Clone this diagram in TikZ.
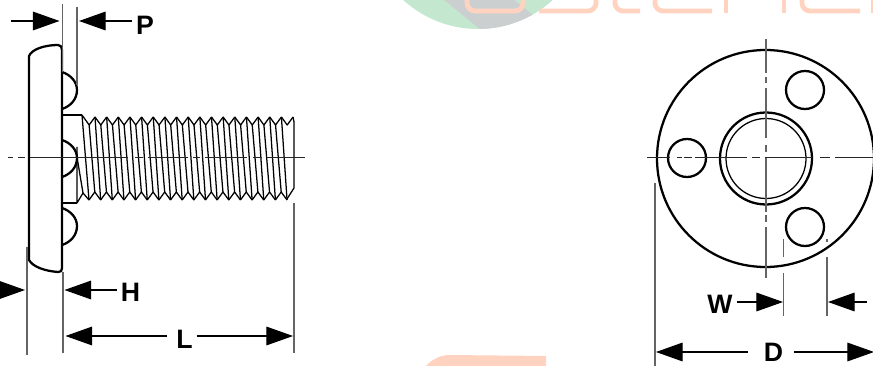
\documentclass[tikz,border=0pt]{standalone}
\usepackage{fontspec}
\setmainfont{Liberation Sans}
\usepackage{tikz}
\usetikzlibrary{arrows.meta}
\definecolor{mygreen}{RGB}{195,232,207}
\definecolor{mygray}{RGB}{204,207,208}
\definecolor{mypeach}{RGB}{255,211,192}
\definecolor{myline}{RGB}{100,100,100}
\tikzset{
  outline/.style={line width=1.7pt, line join=round},
  thread/.style={line width=0.95pt, line join=round},
  extline/.style={line width=0.85pt, myline},
  centerline/.style={line width=0.75pt, black!85},
  axisline/.style={line width=1.1pt, myline},
  dimline/.style={line width=0.9pt, -{Triangle[length=20pt,width=14pt]}},
  dimlabel/.style={font=\fontsize{20}{20}\selectfont\bfseries, inner ysep=0pt, inner xsep=3pt},
  letterstroke/.style={line width=3.6pt, mypeach, rounded corners=6pt}
}

\begin{document}
\begin{tikzpicture}[x=0.75pt, y=-0.75pt]
\clip (0,0) rectangle (873,366);

% Background marks
\begin{scope}
\clip (478,-82) circle (111);
\fill[mygreen] (478,-82) circle (111);
\fill[mygray] (443,-1) -- (481,30) -- (540,30) -- (532,14) -- (513,-1) -- cycle;
\end{scope}
\draw[letterstroke] (467,-5) -- (467,11) -- (523,11) -- (523,-5);
\draw[letterstroke] (539,11) -- (596,11) -- (596,-5);
\draw[letterstroke] (615,-5) -- (615,11) -- (640,11);
\draw[letterstroke] (655,-5) -- (655,11) -- (712,11);
\draw[letterstroke] (802,-5) -- (802,11) -- (860,11);
\foreach \x in {726,784,873}
  \fill[mypeach] (\x-2,-1) rectangle (\x+2,13);
\fill[mypeach] (425,367) .. controls (431,360) and (440,355) .. (449,355) -- (546,356) -- (546,367) -- cycle;

% Side view: head and bumps
\draw[outline] (29,56) .. controls (32,49) and (45,45) .. (58,45)
  .. controls (61,45) and (62,47) .. (62,50) -- (62,268)
  .. controls (62,271) and (61,272) .. (58,272)
  .. controls (45,271) and (33,267) .. (29,260) -- cycle;
\foreach \y in {72,140,208}
  \draw[outline] (62,\y) .. controls (71,\y+3) and (77,\y+10) .. (77,\y+18)
    .. controls (77,\y+27) and (71,\y+34) .. (62,\y+37);

% Side view: shank and thread
\draw[outline] (62,115) -- (82,115);
\draw[outline] (62,203) -- (77,203);
\draw[thread] (77,147) -- (77,203) -- (83,193) -- (89,200);
\draw[thread] (82,115) -- (89.15,125);
\draw[thread] (77,157) -- (83,193);
\draw[thread] (82,115) -- (89,200);
\foreach \n in {0,...,16} {
  \draw[thread] ({95+11.65*\n},117) -- ({100.8+11.65*\n},125) -- ({106.65+11.65*\n},117);
  \draw[thread] ({89+11.65*\n},200) -- ({94.8+11.65*\n},192) -- ({100.65+11.65*\n},200);
  \draw[thread] ({89.15+11.65*\n},125) -- ({94.8+11.65*\n},192);
  \draw[thread] ({95+11.65*\n},117) -- ({100.65+11.65*\n},200);
}
\draw[thread] (89.15,125) -- (95,117);
\draw[thread] (293,117) -- (294,122) -- (294,188) -- (287,199);

% Side view: centre line
\foreach \a/\b in {8/13,18/25,30/128,135/143,148/188,193/200,205/247,253/262,267/305}
  \draw[centerline] (\a,158) -- (\b,158);

% Front view: circles
\draw[outline] (765.5,158.5) circle (108.5);
\draw[outline] (687,158) circle (19);
\draw[outline] (805,90) circle (19);
\draw[outline] (805,227) circle (19);
\draw[outline] (766,158.5) circle (46);
\draw[thread] (766,158.5) circle (40);

% Front view: centre lines
\foreach \a/\b in {647/670,677/682,684/692,695/747,752/760,765/812,820/830,835/873}
  \draw[centerline] (\a,158) -- (\b,158);
\foreach \a/\b in {39/73,77/83,88/138,145/152,158/212,215/222,227/278}
  \draw[axisline] (766,\a) -- (766,\b);

% Extension lines
\draw[extline] (62.5,4) -- (62.5,72);
\draw[extline] (77,7) -- (77,85);
\draw[extline] (27,247) -- (27,355);
\draw[extline] (63,272) -- (63,353);
\draw[extline] (294,203) -- (294,353);
\draw[extline] (655,183) -- (655,366);
\draw[extline] (783.7,239) -- (783.7,257);
\draw[extline] (783.7,273) -- (783.7,316);
\draw[extline] (827,239) -- (827,242);
\draw[extline] (827,257) -- (827,316);

% Dimension labels
\node[dimlabel] (P) at (145,25.5) {P};
\node[dimlabel] (H) at (130.5,292) {H};
\node[dimlabel] (L) at (184.5,339) {L};
\node[dimlabel] (W) at (720,304) {W};
\node[dimlabel] (D) at (773.5,352) {D};

% Arrow ends
\coordinate (ptail) at (11,21);
\coordinate (ptipl) at (59.5,21);
\coordinate (ptipr) at (79,21);
\coordinate (htail) at (-30,290);
\coordinate (htipl) at (25,290);
\coordinate (htipr) at (64.5,290);
\coordinate (ltail) at (167,336);
\coordinate (ltipl) at (65.5,336);
\coordinate (ltipr) at (293,336);
\coordinate (wtipl) at (783,302);
\coordinate (wtipr) at (828,302);
\coordinate (wtail) at (867,302);
\coordinate (dtaill) at (748,352);
\coordinate (dtailr) at (794,352);
\coordinate (dtipl) at (656,352);
\coordinate (dtipr) at (874,352);

% Dimension arrows
\draw[dimline] (ptail) -- (ptipl);
\draw[dimline] (P.west |- ptipr) -- (ptipr);
\draw[dimline] (htail) -- (htipl);
\draw[dimline] (H.west |- htipr) -- (htipr);
\draw[dimline] (ltail) -- (ltipl);
\draw[dimline] (L.east |- ltipr) -- (ltipr);
\draw[dimline] (W.east |- wtipl) -- (wtipl);
\draw[dimline] (wtail) -- (wtipr);
\draw[dimline] (dtaill) -- (dtipl);
\draw[dimline] (dtailr) -- (dtipr);
\end{tikzpicture}
\end{document}
